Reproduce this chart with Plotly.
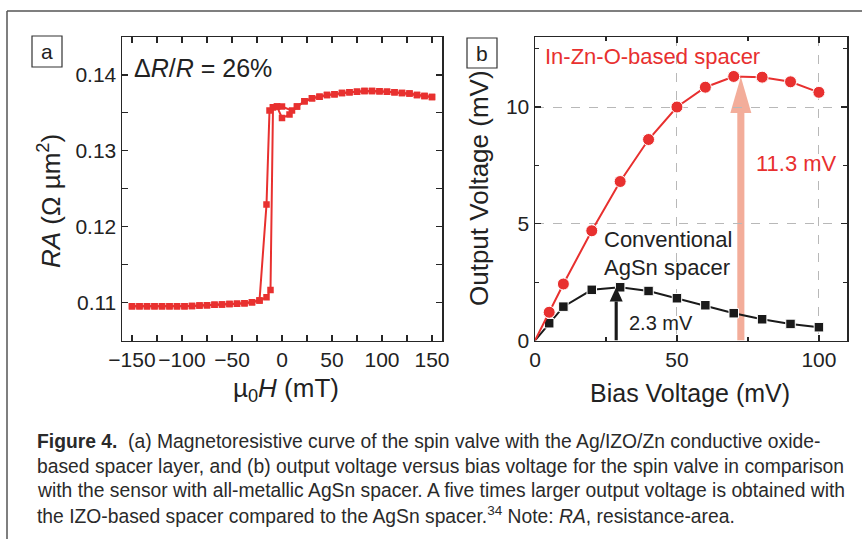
import plotly.graph_objects as go

W, H = 862, 539

# ---------------- Data: panel (a) ----------------
field_down = [150, 142.5, 135, 127.5, 120, 112.5, 105, 97.5, 90, 82.5, 75, 67.5, 60, 52.5, 45,
              37.5, 30, 22.5, 15, 7.5, 0, -5, -9, -11.5, -15.5, -22.5, -30, -37.5, -45, -52.5,
              -60, -67.5, -75, -82.5, -90, -97.5, -105, -112.5, -120, -127.5, -135, -142.5, -150]
ra_down = [0.1371, 0.13723, 0.13736, 0.13754, 0.13763, 0.13772, 0.1378, 0.13785, 0.13789, 0.13789,
           0.1378, 0.13772, 0.13763, 0.13745, 0.13736, 0.13714, 0.13692, 0.13653, 0.13583, 0.13477,
           0.13433, 0.13583, 0.13574, 0.11167, 0.1107, 0.11026, 0.11005, 0.1099, 0.10983, 0.1098,
           0.10974, 0.1097, 0.10965, 0.1096, 0.10956, 0.1095, 0.1095, 0.1095, 0.1095, 0.1095,
           0.1095, 0.1095, 0.1095]
field_up = [-150, -142.5, -135, -127.5, -120, -112.5, -105, -97.5, -90, -82.5, -75, -67.5, -60,
            -52.5, -45, -37.5, -30, -22.5, -15.5, -12.5, -9, -5, 0, 10, 15, 22.5, 30, 37.5, 45,
            52.5, 60, 67.5, 75, 82.5, 90, 97.5, 105, 112.5, 120, 127.5, 135, 142.5, 150]
ra_up = [0.1095, 0.1095, 0.1095, 0.1095, 0.1095, 0.1095, 0.1095, 0.1095, 0.10956, 0.1096, 0.10965,
         0.1097, 0.10974, 0.1098, 0.10983, 0.1099, 0.11005, 0.11026, 0.12291, 0.1353, 0.13574,
         0.13583, 0.13583, 0.1353, 0.13583, 0.13653, 0.13692, 0.13714, 0.13736, 0.13745, 0.13763,
         0.13772, 0.1378, 0.13789, 0.13789, 0.13785, 0.1378, 0.13772, 0.13763, 0.13754, 0.13736,
         0.13723, 0.1371]

# ---------------- Data: panel (b) ----------------
bias = [0, 5, 10, 20, 30, 40, 50, 60, 70, 80, 90, 100]
out_izo = [0, 1.21, 2.42, 4.70, 6.81, 8.61, 10.0, 10.85, 11.31, 11.28, 11.08, 10.63]
out_agsn = [0, 0.74, 1.45, 2.17, 2.28, 2.12, 1.81, 1.51, 1.17, 0.91, 0.71, 0.57]

izo_peak_x, izo_peak = 72.5, 11.3
agsn_peak_x, agsn_peak = 28.6, 2.28

x_ticks_a = [-150, -100, -50, 0, 50, 100, 150]
y_ticks_a = [0.11, 0.12, 0.13, 0.14]
x_ticks_b = [0, 50, 100]
y_ticks_b = [0, 5, 10]

caption_lines = [
    "<b>Figure 4.</b>&nbsp; (a) Magnetoresistive curve of the spin valve with the Ag/IZO/Zn conductive oxide-",
    "based spacer layer, and (b) output voltage versus bias voltage for the spin valve in comparison",
    "with the sensor with all-metallic AgSn spacer. A five times larger output voltage is obtained with",
    "the IZO-based spacer compared to the AgSn spacer.<sup>34</sup> Note: <i>RA</i>, resistance-area.",
]

RED = "#E8302F"
BLACK = "#1a1a1a"
AXC = "#262626"
FONT = "Liberation Sans, Arial, sans-serif"


def px(x):
    return x / W


def py(y):
    return 1 - y / H


fig = go.Figure()

for fx, fy in [(field_down, ra_down), (field_up, ra_up)]:
    fig.add_trace(go.Scatter(
        x=fx, y=fy, mode="lines+markers", xaxis="x", yaxis="y",
        line=dict(color=RED, width=2),
        marker=dict(symbol="square", size=6.5, color=RED, opacity=1),
        showlegend=False, hoverinfo="skip"))

sizes_izo = [0] + [12] * (len(bias) - 1)
sizes_agsn = [0] + [9.5] * (len(bias) - 1)
fig.add_trace(go.Scatter(
    x=bias, y=out_agsn, mode="lines+markers", xaxis="x2", yaxis="y2",
    line=dict(color=BLACK, width=2),
    marker=dict(symbol="square", size=sizes_agsn, color=BLACK, opacity=1),
    showlegend=False, hoverinfo="skip"))
fig.add_trace(go.Scatter(
    x=bias, y=out_izo, mode="lines+markers", xaxis="x2", yaxis="y2",
    line=dict(color=RED, width=2),
    marker=dict(symbol="circle", size=sizes_izo, color=RED, opacity=1),
    showlegend=False, hoverinfo="skip"))

axis_common = dict(
    showline=True, linecolor=AXC, linewidth=1.5, mirror="allticks",
    ticks="inside", ticklen=6, tickwidth=1.2, tickcolor=AXC,
    tickfont=dict(family=FONT, size=21, color="#222"),
    zeroline=False, fixedrange=True, automargin=False, tickangle=0,
)

ydom = [py(340.5), py(37)]
fig.update_layout(
    width=W, height=H,
    margin=dict(l=0, r=0, t=0, b=0, autoexpand=False),
    paper_bgcolor="white", plot_bgcolor="white",
    font=dict(family=FONT, color="#222"),
    xaxis=dict(domain=[px(122), px(442)], range=[-160, 160], anchor="y",
               tickvals=x_ticks_a, ticktext=[str(v).replace("-", "\u2212") for v in x_ticks_a],
               minor=dict(dtick=25, tick0=0, ticks="inside", ticklen=6, tickcolor=AXC, showgrid=False),
               showgrid=False, **axis_common),
    yaxis=dict(domain=ydom, range=[0.105, 0.145], anchor="x",
               tickvals=y_ticks_a, tickformat=".2f",
               minor=dict(dtick=0.005, tick0=0.1, ticks="inside", ticklen=6, tickcolor=AXC, showgrid=False),
               showgrid=False, **axis_common),
    xaxis2=dict(domain=[px(535), px(847.3)], range=[0, 110], anchor="y2",
                tickvals=x_ticks_b,
                minor=dict(dtick=25, tick0=0, ticks="inside", ticklen=4, tickcolor=AXC, showgrid=False),
                showgrid=True, gridcolor="#b8b8b8", griddash="dash", gridwidth=1,
                **axis_common),
    yaxis2=dict(domain=ydom, range=[0, 13], anchor="x2",
                tickvals=y_ticks_b,
                minor=dict(dtick=2.5, tick0=0, ticks="inside", ticklen=4, tickcolor=AXC, showgrid=False),
                showgrid=True, gridcolor="#b8b8b8", griddash="dash", gridwidth=1,
                **axis_common),
)

shapes = []
# outer frame (left and top lines)
shapes.append(dict(type="line", xref="paper", yref="paper", x0=px(7), x1=1.0, y0=py(11), y1=py(11),
                   line=dict(color="#555", width=1.5)))
shapes.append(dict(type="line", xref="paper", yref="paper", x0=px(7), x1=px(7), y0=py(11), y1=0,
                   line=dict(color="#555", width=1.5)))
# panel label boxes
for (x0, y0, x1, y1) in [(32, 36, 62, 67), (467, 38, 497, 68)]:
    shapes.append(dict(type="rect", xref="paper", yref="paper", x0=px(x0), x1=px(x1), y0=py(y1), y1=py(y0),
                       line=dict(color="#333", width=1.2), fillcolor="white"))

# pink arrow (peak of IZO)
PINK = "rgba(240,150,125,0.78)"
shaft_half = 1.25
head_half = 3.7
head_base = 9.75
shapes.append(dict(type="rect", xref="x2", yref="y2", x0=izo_peak_x - shaft_half, x1=izo_peak_x + shaft_half,
                   y0=0, y1=head_base, line=dict(width=0), fillcolor=PINK, layer="below"))
shapes.append(dict(type="path", xref="x2", yref="y2",
                   path=f"M {izo_peak_x - head_half} {head_base} L {izo_peak_x + head_half} {head_base} L {izo_peak_x} {izo_peak} Z",
                   line=dict(width=0), fillcolor=PINK, layer="below"))
# black arrow (peak of AgSn)
b_shaft = 0.55
b_head = 2.3
b_base = 1.67
shapes.append(dict(type="rect", xref="x2", yref="y2", x0=agsn_peak_x - b_shaft, x1=agsn_peak_x + b_shaft,
                   y0=0, y1=b_base, line=dict(width=0), fillcolor=BLACK))
shapes.append(dict(type="path", xref="x2", yref="y2",
                   path=f"M {agsn_peak_x - b_head} {b_base} L {agsn_peak_x + b_head} {b_base} L {agsn_peak_x} {agsn_peak} Z",
                   line=dict(width=0), fillcolor=BLACK))
fig.update_layout(shapes=shapes)

ann = []


def text(x, y, s, size, color="#222", xanchor="left", angle=0):
    ann.append(dict(xref="paper", yref="paper", x=px(x), y=py(y), text=s, showarrow=False,
                    xanchor=xanchor, yanchor="middle", textangle=angle,
                    font=dict(family=FONT, size=size, color=color)))


text(47, 51.5, "a", 21, xanchor="center")
text(482, 53, "b", 21, xanchor="center")
text(132, 68, "\u0394<i>R</i>/<i>R</i> = 26%", 25)
text(50, 201, "<i>RA</i> (\u03a9 \u00b5m<sup>2</sup>)", 26, xanchor="center", angle=-90)
text(286, 389, "\u00b5<sub>0</sub><i>H</i> (mT)", 26, xanchor="center")
text(479, 188, "Output Voltage (mV)", 26, xanchor="center", angle=-90)
text(690, 393, "Bias Voltage (mV)", 25, xanchor="center")
text(543, 57, "In-Zn-O-based spacer", 22, color=RED)
text(839, 163, "11.3 mV", 22, color=RED, xanchor="right")
text(602, 239, "Conventional", 22)
text(602, 267, "AgSn spacer", 22)
text(627, 323, "2.3 mV", 20)

for i, line in enumerate(caption_lines):
    text(35, 441.5 + i * 24.5, line, 19.3, color="#2a2a2a")

fig.update_layout(annotations=ann)

fig.write_html("out.html",
               config={"displayModeBar": False, "staticPlot": True},
               post_script="document.body.style.margin='0';document.body.style.overflow='hidden';")
